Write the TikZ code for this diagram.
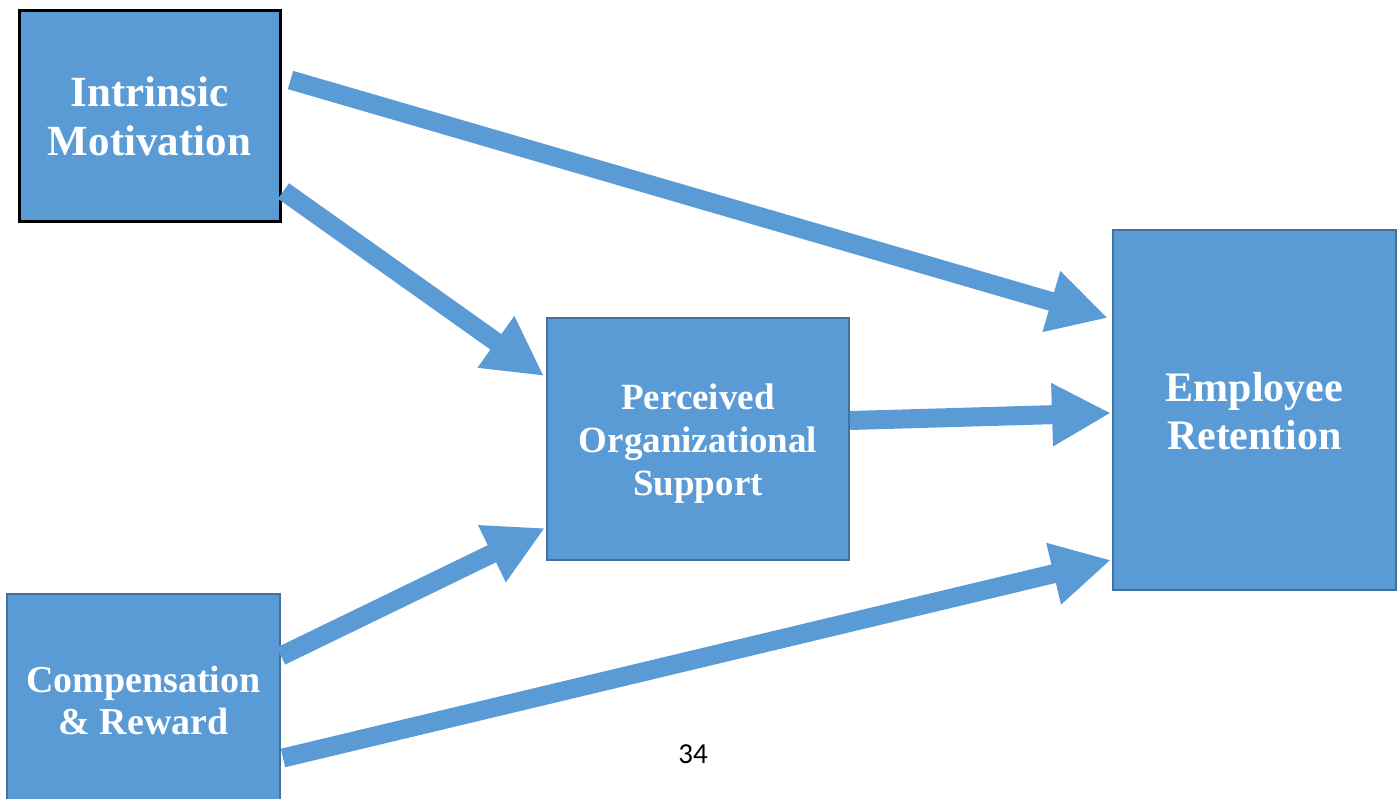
\documentclass[tikz,border=0pt]{standalone}
\usepackage{fontspec}
\setmainfont{Liberation Serif}
\newfontfamily\pagefont{Carlito}
\usetikzlibrary{arrows.meta,calc}
\definecolor{boxblue}{HTML}{5B9BD5}
\definecolor{edgeblue}{HTML}{41719C}
\tikzset{
  box/.style={draw=edgeblue, fill=boxblue, line width=2pt, text=white, align=center, inner sep=0pt},
  flow/.style={draw=boxblue, line width=19pt, line cap=butt, -{Triangle[length=59pt,width=59pt]}}
}
\begin{document}
\begin{tikzpicture}[x=1pt,y=-1pt]
\useasboundingbox (0,0) rectangle (1400,799);
\clip (0,0) rectangle (1400,799);
\node[box, draw=black, line width=3pt, minimum width=261pt, minimum height=211pt,
  font=\fontsize{43}{49}\selectfont\bfseries] (im) at (149.5,116.5) {Intrinsic\\Motivation};
\node[box, minimum width=273pt, minimum height=212pt,
  font=\fontsize{38}{42}\selectfont\bfseries] (cr) at (143.5,700) {Compensation\\\& Reward};
\node[box, minimum width=302pt, minimum height=242pt,
  font=\fontsize{37}{43}\selectfont\bfseries] (pos) at (698,439) {\rule{0pt}{35pt}Perceived\\Organizational\\Support};
\node[box, minimum width=283pt, minimum height=360pt,
  font=\fontsize{42}{48}\selectfont\bfseries] (er) at (1254.5,410) {\rule{0pt}{32pt}Employee\\Retention};
\node[font=\pagefont\fontsize{29}{32}\selectfont, inner sep=0pt] (pg) at (693,754.5) {34};
\draw[flow] ($(im.east)+(9,-36.5)$) -- ($(er.west)+(-4,-92)$);
\draw[flow] ($(im.east)+(2,74.5)$) -- ($(pos.west)+(-2,-63)$);
\draw[flow] ($(pos.east)+(0,-18.5)$) -- ($(er.west)+(-1,3)$);
\draw[flow] ($(cr.east)+(0,-44)$) -- ($(pos.west)+(-1,89)$);
\draw[flow] ($(cr.east)+(2,58)$) -- ($(er.west)+(-1,150)$);
\end{tikzpicture}
\end{document}
